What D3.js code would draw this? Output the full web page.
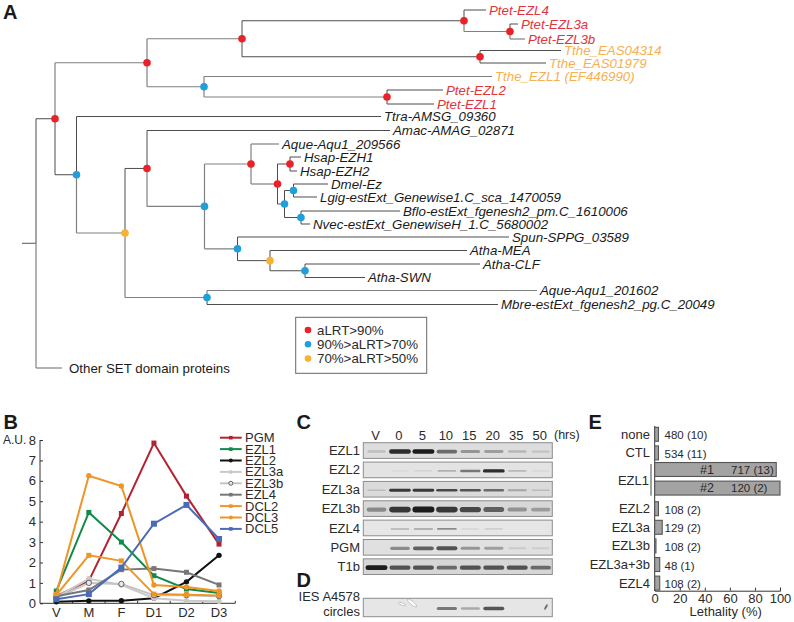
<!DOCTYPE html>
<html>
<head>
<meta charset="utf-8">
<script src="https://cdn.jsdelivr.net/npm/d3@7"></script>
<style>
  html, body { margin: 0; padding: 0; background: #fff; }
  svg { display: block; }
  text { font-family: "Liberation Sans", Arial, sans-serif; fill: #2a2a2a; }
  .axis path, .axis line { stroke: #333; stroke-width: 1; }
  .axis text { font-size: 13px; fill: #2a2a2a; }
</style>
</head>
<body>
<div id="chart"></div>
<script>
// Figure with panels A-E: tree, expression lines, gels and lethality bars

///////////////////////////////////////////////////////////// ! Data
// Panel A: [node, parent, branch length]
const branches = [
  ["root", "", 0], ["n0", "root", 14], ["n1", "n0", 19], ["n2", "n1", 92], ["n3", "n2", 95],
  ["n4", "n3", 222], ["Ptet-EZL4", "n4", 22], ["n5", "n4", 46], ["Ptet-EZL3a", "n5", 8], ["Ptet-EZL3b", "n5", 15],
  ["n6", "n3", 238], ["Tthe_EAS04314", "n6", 81], ["Tthe_EAS01979", "n6", 66],
  ["n7", "n2", 57], ["Tthe_EZL1 (EF446990)", "n7", 288], ["n8", "n7", 183], ["Ptet-EZL2", "n8", 56], ["Ptet-EZL1", "n8", 47],
  ["n9", "n1", 21.5], ["Ttra-AMSG_09360", "n9", 304.5], ["n10", "n9", 48.5], ["n11", "n10", 22],
  ["Amac-AMAG_02871", "n11", 243], ["n12", "n11", 57.5], ["n13", "n12", 46.5], ["Aque-Aqu1_209566", "n13", 28],
  ["n14", "n13", 26.5], ["n15", "n14", 12.5], ["Hsap-EZH1", "n15", 11], ["Hsap-EZH2", "n15", 7],
  ["n16", "n14", 7], ["n17", "n16", 9], ["Dmel-Ez", "n17", 34.5], ["Lgig-estExt_Genewise1.C_sca_1470059", "n17", 23.5],
  ["n18", "n16", 16.5], ["Bflo-estExt_fgenesh2_pm.C_1610006", "n18", 99], ["Nvec-estExt_GenewiseH_1.C_5680002", "n18", 9],
  ["n19", "n12", 33], ["Spun-SPPG_03589", "n19", 271.5], ["n20", "n19", 32.5], ["Atha-MEA", "n20", 197],
  ["n21", "n20", 35], ["Atha-CLF", "n21", 175], ["Atha-SWN", "n21", 60],
  ["n22", "n10", 82], ["Aque-Aqu1_201602", "n22", 330], ["Mbre-estExt_fgenesh2_pg.C_20049", "n22", 291],
  ["Other SET domain proteins", "n0", 26],
];
const leafRows = {
  "Ptet-EZL4": 10, "Ptet-EZL3a": 24, "Ptet-EZL3b": 39, "Tthe_EAS04314": 50.5, "Tthe_EAS01979": 63,
  "Tthe_EZL1 (EF446990)": 76.5, "Ptet-EZL2": 90, "Ptet-EZL1": 104, "Ttra-AMSG_09360": 116.5,
  "Amac-AMAG_02871": 130.5, "Aque-Aqu1_209566": 144, "Hsap-EZH1": 157, "Hsap-EZH2": 171, "Dmel-Ez": 184,
  "Lgig-estExt_Genewise1.C_sca_1470059": 197, "Bflo-estExt_fgenesh2_pm.C_1610006": 211,
  "Nvec-estExt_GenewiseH_1.C_5680002": 224, "Spun-SPPG_03589": 237, "Atha-MEA": 250.5, "Atha-CLF": 264,
  "Atha-SWN": 277.5, "Aque-Aqu1_201602": 290.5, "Mbre-estExt_fgenesh2_pg.C_20049": 304.5,
  "Other SET domain proteins": 368,
};
const supportHigh = ["n1", "n2", "n3", "n4", "n5", "n6", "n8", "n11", "n13", "n14", "n15"];
const supportMid = ["n7", "n9", "n12", "n16", "n17", "n18", "n19", "n21", "n22"];
const supportLow = ["n10", "n20"];
const lightBranches = ["n3", "n7", "n8", "n2", "n10", "n12", "n19", "n22", "Aque-Aqu1_201602", "Tthe_EZL1 (EF446990)",
  "Aque-Aqu1_209566", "n13", "n14", "Other SET domain proteins", "n5", "Ptet-EZL3b"];
const supportLegend = ["aLRT>90%", "90%>aLRT>70%", "70%>aLRT>50%"];

// Panel B
const stages = ["V", "M", "F", "D1", "D2", "D3"];
const auTicks = [0, 1, 2, 3, 4, 5, 6, 7, 8];
const pgm = [0.35, 1.1, 4.4, 7.85, 5.25, 2.9];
const ezl1 = [0.6, 4.45, 3.0, 1.35, 0.7, 0.5];
const ezl2 = [0.07, 0.12, 0.13, 0.25, 1.05, 2.35];
const ezl3a = [0.3, 1.2, 0.9, 0.25, 0.13, 0.1];
const ezl3b = [0.25, 1.0, 0.95, 0.4, 0.4, 0.35];
const ezl4 = [0.35, 0.65, 1.65, 1.7, 1.52, 0.9];
const dcl2 = [0.4, 2.35, 2.08, 0.45, 0.42, 0.38];
const dcl3 = [0.45, 6.25, 5.75, 0.9, 0.8, 0.6];
const dcl5 = [0.2, 0.45, 1.75, 3.9, 4.82, 3.15];
const seriesNames = ["PGM", "EZL1", "EZL2", "EZL3a", "EZL3b", "EZL4", "DCL2", "DCL3", "DCL5"];
const seriesValues = [pgm, ezl1, ezl2, ezl3a, ezl3b, ezl4, dcl2, dcl3, dcl5];
const seriesColors = ["#b3232f", "#128a4c", "#111111", "#c9c9c9", "#c4c4c4", "#777777", "#ee9527", "#ee9527", "#4a6cb6"];
const seriesMarkers = ["square", "square", "circle", "circle", "open", "square", "square", "circle", "square"];

// Panels C, D: relative band strength per lane
const lanes = ["V", "0", "5", "10", "15", "20", "35", "50"];
const gelNames = ["EZL1", "EZL2", "EZL3a", "EZL3b", "EZL4", "PGM", "T1b"];
const gelBands = [
  [0.25, 0.95, 1, 0.7, 0.5, 0.45, 0.3, 0.2],
  [0, 0.03, 0.12, 0.35, 0.65, 0.95, 0.3, 0.05],
  [0.25, 0.9, 0.9, 0.85, 0.8, 0.7, 0.4, 0.25],
  [0.55, 0.9, 1, 0.9, 0.85, 0.75, 0.5, 0.45],
  [0, 0.35, 0.45, 0.55, 0.15, 0.2, 0, 0],
  [0, 0.55, 0.75, 0.8, 0.5, 0.45, 0.15, 0.12],
  [1, 0.8, 0.8, 0.7, 0.8, 0.8, 0.8, 0.7],
];
const gelThickness = [1, 0.7, 0.65, 1.3, 0.55, 1, 1.05];
const circleBands = [0, 0, 0, 0.65, 0.4, 0.8, 0, 0];

// Panel E
const lethalRows = ["none", "CTL", "#1", "#2", "EZL2", "EZL3a", "EZL3b", "EZL3a+3b", "EZL4"];
const lethalValues = [3, 3, 97, 100, 3, 6, 1, 4, 4];
const lethalNotes = ["480 (10)", "534 (11)", "717 (13)", "120 (2)", "108 (2)", "129 (2)", "108 (2)", "48 (1)", "108 (2)"];
const lethalTicks = [0, 20, 40, 60, 80, 100];

///////////////////////////////////////////////////////////// ! Setup
const width = 794;
const height = 622;
const red = "#ea2128";
const blue = "#1f9fdc";
const yellow = "#f7b133";

const svg = d3.select("#chart").append("svg").attr("width", width).attr("height", height);

const defs = svg.append("defs");
defs.append("filter").attr("id", "soft").append("feGaussianBlur").attr("stdDeviation", 0.6);

// Bold panel letters
[["A", 3, 18.5], ["B", 3.5, 429], ["C", 296.5, 429], ["D", 296.5, 587], ["E", 588.5, 429]].forEach(([t, x, y]) => {
  svg.append("text").attr("x", x).attr("y", y)
    .style("font-size", "20px").style("font-weight", "bold").style("fill", "#1a1a1a").text(t);
});

///////////////////////////////////////////////////////////// ! Panel A - tree
const treeRoot = d3.stratify()
  .id((d) => d[0])
  .parentId((d) => d[1])(branches);

const treeX = d3.scaleLinear().domain([0, 764]).range([22, 786]);
const treeY = d3.scaleLinear().domain([0, 622]).range([0, 622]);

// Node depth is the summed branch length, node row is the middle of its children
treeRoot.eachBefore((n) => {
  n.dist = n.parent ? n.parent.dist + n.data[2] : 0;
});
treeRoot.eachAfter((n) => {
  n.row = n.children ? d3.mean(n.children, (c) => c.row) : leafRows[n.id];
});

const treeG = svg.append("g").attr("fill", "none");

treeRoot.descendants().forEach((n) => {
  if (!n.parent) return;
  const isLight = lightBranches.includes(n.id);
  // Elbow from parent spine to this node
  treeG.append("path")
    .attr("d", `M${treeX(n.parent.dist)},${treeY(n.row)}H${treeX(n.dist)}`)
    .attr("stroke", isLight ? "#808080" : "#4d4d4d")
    .attr("stroke-width", isLight ? 1.2 : 1);
  treeG.append("path")
    .attr("d", `M${treeX(n.parent.dist)},${treeY(n.parent.row)}V${treeY(n.row)}`)
    .attr("stroke", isLight ? "#808080" : "#4d4d4d")
    .attr("stroke-width", isLight ? 1.2 : 1);
});
treeG.append("path")
  .attr("d", `M${treeX(0)},${treeY(treeRoot.row)}H${treeX(14)}`)
  .attr("stroke", "#808080");

function supportColor(id) {
  if (supportHigh.includes(id)) return red;
  if (supportMid.includes(id)) return blue;
  if (supportLow.includes(id)) return yellow;
  return null;
}

treeRoot.descendants().filter((n) => supportColor(n.id)).forEach((n) => {
  svg.append("circle")
    .attr("cx", treeX(n.dist))
    .attr("cy", treeY(n.row))
    .attr("r", 3.8)
    .attr("fill", supportColor(n.id));
});

treeRoot.leaves().forEach((n) => {
  const isOther = n.id.startsWith("Other");
  svg.append("text")
    .attr("x", treeX(n.dist) + (isOther ? 7 : 3))
    .attr("y", treeY(n.row))
    .attr("dy", "0.35em")
    .style("font-size", "13.3px")
    .style("font-style", isOther ? "normal" : "italic")
    .style("fill", n.id.startsWith("Ptet") ? "#e2343a" : n.id.startsWith("Tthe") ? "#f6b04f" : "#1a1a1a")
    .text(n.id);
});

// Support legend
svg.append("rect").attr("x", 295.7).attr("y", 317.3).attr("width", 131).attr("height", 56)
  .attr("fill", "none").attr("stroke", "#666");
supportLegend.forEach((label, i) => {
  const y = 330 + i * 14.3;
  svg.append("circle").attr("cx", 308).attr("cy", y).attr("r", 3.3).attr("fill", [red, blue, yellow][i]);
  svg.append("text").attr("x", 317).attr("y", y).attr("dy", "0.35em").style("font-size", "13.3px").text(label);
});

///////////////////////////////////////////////////////////// ! Panel B - expression lines
const bX = d3.scaleBand().domain(stages).range([40, 235.3]);
const bY = d3.scaleLinear().domain([0, 8]).range([603.3, 440]);

const bYAxis = svg.append("g").attr("class", "axis")
  .attr("transform", "translate(40,0)")
  .call(d3.axisLeft(bY).tickValues(auTicks).tickSize(-3).tickPadding(4));
bYAxis.select(".domain").attr("d", "M0,440V603.3");

const bXAxis = svg.append("g").attr("class", "axis")
  .attr("transform", "translate(0,603.3)")
  .call(d3.axisBottom(bX).tickSize(0).tickPadding(4));
bXAxis.select(".domain").attr("d", "M40,0H235.3");
bX.domain().forEach((s) => {
  bXAxis.append("line")
    .attr("x1", bX(s) + bX.step())
    .attr("x2", bX(s) + bX.step())
    .attr("y1", 0).attr("y2", -2.5).attr("stroke", "#333");
});

svg.append("text").attr("x", 3).attr("y", 440).attr("dy", "0.35em").style("font-size", "12px").text("A.U.");

const bLine = d3.line()
  .x((d, i) => bX(stages[i]) + bX.bandwidth() / 2)
  .y((d) => bY(d));

function drawMarker(g, kind, x, y, color, size) {
  if (kind === "square") {
    g.append("rect").attr("x", x - size / 2).attr("y", y - size / 2)
      .attr("width", size).attr("height", size).attr("fill", color);
  } else {
    g.append("circle").attr("cx", x).attr("cy", y).attr("r", size / 2 + 0.2)
      .attr("fill", kind === "open" ? "#e8e8e8" : color)
      .attr("stroke", kind === "open" ? "#444" : "none")
      .attr("stroke-width", 0.8);
  }
}

seriesNames.forEach((name, s) => {
  const g = svg.append("g");
  const size = name === "DCL5" ? 6 : 5;
  g.append("path")
    .attr("d", bLine(seriesValues[s]))
    .attr("fill", "none")
    .attr("stroke", seriesColors[s])
    .attr("stroke-width", 2);
  seriesValues[s].forEach((v, i) => {
    drawMarker(g, seriesMarkers[s], bX(stages[i]) + bX.bandwidth() / 2, bY(v), seriesColors[s], size);
  });

  // Legend entry
  const ly = 437.7 + s * 11.4;
  g.append("line").attr("x1", 220).attr("x2", 241.7).attr("y1", ly).attr("y2", ly)
    .attr("stroke", seriesColors[s]).attr("stroke-width", 2);
  drawMarker(g, seriesMarkers[s], 230.8, ly, seriesColors[s], 3.6);
  g.append("text").attr("x", 245).attr("y", ly).attr("dy", "0.35em").style("font-size", "13px").text(name);
});

///////////////////////////////////////////////////////////// ! Panels C and D - gels
const laneX = d3.scalePoint().domain(lanes).range([376.5, 540.7]);
const gelY = d3.scaleBand().domain(gelNames).range([442.7, 574.5]).paddingInner(0.19).paddingOuter(0);
const bandShade = d3.scaleLinear().domain([0, 1]).range(["#c8c8c8", "#1c1c1c"]);
const bandWidth = d3.scaleLinear().domain([0, 1]).range([17, 22]);
const bandHeight = d3.scaleLinear().domain([0, 1]).range([1.6, 4.6]);

function drawGel(values, top, h, thick) {
  const mean = d3.mean(values);
  svg.append("rect").attr("x", 363.3).attr("y", top).attr("width", 189).attr("height", h)
    .attr("fill", d3.interpolateRgb("#ececec", "#d0d0d0")(mean)).attr("stroke", "#8c8c8c");
  const g = svg.append("g").attr("filter", "url(#soft)");
  values.forEach((v, i) => {
    if (v === 0) return;
    const bh = bandHeight(v) * thick;
    g.append("rect")
      .attr("x", laneX(lanes[i]) - bandWidth(v) / 2)
      .attr("y", top + h / 2 + 1 - bh / 2)
      .attr("width", bandWidth(v))
      .attr("height", bh)
      .attr("rx", bh / 2)
      .attr("fill", bandShade(v))
      .attr("opacity", 0.35 + v * 0.65);
  });
}

gelNames.forEach((name, r) => {
  drawGel(gelBands[r], gelY(name), gelY.bandwidth(), gelThickness[r]);
  svg.append("text").attr("x", 360).attr("y", gelY(name) + gelY.bandwidth() / 2)
    .attr("dy", "0.35em").attr("text-anchor", "end").style("font-size", "13px").text(name);
});

lanes.forEach((lane) => {
  svg.append("text").attr("x", laneX(lane) - 1).attr("y", 435).attr("dy", "0.35em")
    .attr("text-anchor", "middle").style("font-size", "13px").text(lane);
});
svg.append("text").attr("x", 554).attr("y", 435).attr("dy", "0.35em").style("font-size", "12.5px").text("(hrs)");

drawGel(circleBands, 598.3, 18.4, 0.9);
// Scratches on the circles gel
[[402, 604, 4, 1.2, 20], [412, 603, 6, 1.6, 40], [546, 607, 0.8, 3, 30]].forEach(([x, y, rx, ry, a], i) => {
  svg.append("ellipse")
    .attr("transform", `translate(${x},${y}) rotate(${a})`)
    .attr("rx", rx).attr("ry", ry)
    .attr("fill", i === 2 ? "#555" : "#fff")
    .attr("stroke", "#999").attr("stroke-width", 0.5);
});
svg.append("text").attr("x", 360).attr("y", 596).attr("dy", "0.35em").attr("text-anchor", "end")
  .style("font-size", "13px").text("IES A4578");
svg.append("text").attr("x", 360).attr("y", 611).attr("dy", "0.35em").attr("text-anchor", "end")
  .style("font-size", "13px").text("circles");

///////////////////////////////////////////////////////////// ! Panel E - lethality bars
const eX = d3.scaleLinear().domain([0, 100]).range([654.7, 780]);
const eY = d3.scaleBand().domain(lethalRows).range([425, 592.4]).paddingInner(0.25).paddingOuter(0.125);
const isEzl1 = (d) => d === "#1" || d === "#2";
const barTop = (d) => eY(d) + (isEzl1(d) ? -2 : 0);

const eAxis = svg.append("g").attr("class", "axis")
  .attr("transform", "translate(0,590.7)")
  .call(d3.axisBottom(eX).tickValues(lethalTicks).tickSize(-3).tickPadding(3));

svg.append("line").attr("x1", 654.7).attr("x2", 654.7).attr("y1", 426).attr("y2", 590.7).attr("stroke", "#333");

svg.selectAll(".lethal-bar")
  .data(lethalRows)
  .enter()
  .append("rect")
  .attr("class", "lethal-bar")
  .attr("x", eX(0))
  .attr("y", (d) => barTop(d))
  .attr("width", (d, i) => eX(lethalValues[i]) - eX(0))
  .attr("height", eY.bandwidth())
  .attr("fill", "#a3a3a3")
  .attr("stroke", "#555")
  .attr("stroke-width", 1.1);

lethalRows.forEach((row, i) => {
  const cy = barTop(row) + eY.bandwidth() / 2;
  if (isEzl1(row)) {
    svg.append("text").attr("x", 700).attr("y", cy).attr("dy", "0.35em").style("font-size", "12.5px").text(row);
    svg.append("text").attr("x", 731).attr("y", cy).attr("dy", "0.35em").style("font-size", "11.5px").text(lethalNotes[i]);
  } else {
    svg.append("text").attr("x", 650).attr("y", cy).attr("dy", "0.35em").attr("text-anchor", "end")
      .style("font-size", "13px").text(row);
    svg.append("text").attr("x", 664.5).attr("y", cy + 1).attr("dy", "0.35em").style("font-size", "11.5px").text(lethalNotes[i]);
  }
});

// EZL1 group bracket
svg.append("line").attr("x1", 651).attr("x2", 651).attr("y1", 464).attr("y2", 495.7).attr("stroke", "#444");
svg.append("text").attr("x", 649).attr("y", 480.7).attr("dy", "0.35em").attr("text-anchor", "end")
  .style("font-size", "13px").text("EZL1");

svg.append("text").attr("x", 725.7).attr("y", 611).attr("dy", "0.35em").attr("text-anchor", "middle")
  .style("font-size", "13px").text("Lethality (%)");
</script>
</body>
</html>
